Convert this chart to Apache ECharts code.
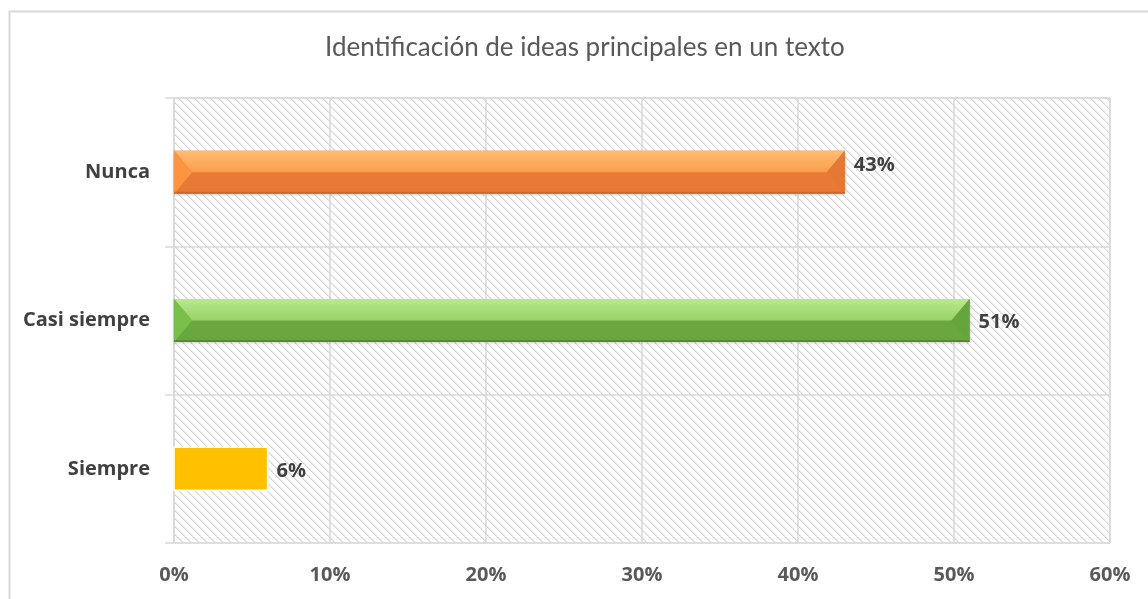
<!DOCTYPE html>
<html>
<head>
<meta charset="utf-8">
<script src="https://cdn.jsdelivr.net/npm/echarts@6/dist/echarts.min.js"></script>
<style>
  html, body { margin: 0; padding: 0; background: #fff; }
  #chart { width: 1148px; height: 599px; }
</style>
</head>
<body>
<div id="chart"></div>
<script>
var title = 'Identificación de ideas principales en un texto';
var categories = ['Nunca', 'Casi siempre', 'Siempre'];
var values = [43, 51, 6];
var xTicks = [0, 10, 20, 30, 40, 50, 60];

(function() {
  var chart = echarts.init(document.getElementById('chart'), null, { renderer: 'canvas' });
  var labelFont = '"Open Sans", Lato, sans-serif';

  // hatch tile for the plot background (downward diagonal)
  var tile = document.createElement('canvas');
  tile.width = 8; tile.height = 8;
  var tctx = tile.getContext('2d');
  tctx.fillStyle = '#ffffff';
  tctx.fillRect(0, 0, 8, 8);
  for (var y = 0; y < 8; y++) {
    for (var x = 0; x < 8; x++) {
      var d = (x - y + 16) % 8;
      if (d === 0) { tctx.fillStyle = (y % 2) ? '#cfcfcf' : '#dedede'; tctx.fillRect(x, y, 1, 1); }
      else if (d === 1) { tctx.fillStyle = '#e8e8e8'; tctx.fillRect(x, y, 1, 1); }
    }
  }

  // look of each bar
  var looks = {
    'Nunca': { flat: false, top0: '#ffbd70', top1: '#f99d4f', bottom: '#e87a36', left: '#fd9441', right: '#e37934', edge: '#b95e22', labelDy: -7 },
    'Casi siempre': { flat: false, top0: '#b8ea8c', top1: '#98d168', bottom: '#69a83f', left: '#79bf4b', right: '#66a43d', edge: '#477a28', labelDy: 2 },
    'Siempre': { flat: true, fill: '#ffc000', labelDy: 2 }
  };

  function renderItem(params, api) {
    var idx = api.value(0);
    var look = looks[categories[idx]];
    var p0 = api.coord([0, idx]);
    var p1 = api.coord([api.value(1), idx]);
    var h = api.size([0, 1])[1] * 0.29;
    var x0 = p0[0], x1 = p1[0];
    var y0 = p0[1] - h / 2, y1 = p0[1] + h / 2, ym = p0[1];
    var children = [];
    if (look.flat) {
      children.push({
        type: 'rect',
        shape: { x: x0, y: y0, width: x1 - x0, height: h },
        style: { fill: look.fill, stroke: '#ffffff', lineWidth: 1.5 }
      });
    } else {
      var b = h * 0.42;
      children.push({
        type: 'rect',
        shape: { x: x0, y: y0, width: x1 - x0, height: h },
        style: { fill: look.bottom, shadowBlur: 3, shadowOffsetY: 1, shadowColor: 'rgba(0,0,0,0.25)' }
      });
      children.push({
        type: 'polygon',
        shape: { points: [[x0, y0], [x1, y0], [x1 - b, ym], [x0 + b, ym]] },
        style: {
          fill: new echarts.graphic.LinearGradient(0, 0, 0, 1, [
            { offset: 0, color: look.top0 }, { offset: 1, color: look.top1 }
          ])
        }
      });
      children.push({
        type: 'polygon',
        shape: { points: [[x0, y0], [x0 + b, ym], [x0, y1]] },
        style: { fill: look.left }
      });
      children.push({
        type: 'polygon',
        shape: { points: [[x1, y0], [x1 - b, ym], [x1, y1]] },
        style: { fill: look.right }
      });
      children.push({
        type: 'rect',
        shape: { x: x0, y: y1 - 2, width: x1 - x0, height: 2 },
        style: { fill: look.edge, opacity: 0.6 }
      });
    }
    children.push({
      type: 'text',
      style: {
        text: api.value(1) + '%',
        x: x1 + 9,
        y: ym + look.labelDy,
        verticalAlign: 'middle',
        fill: '#404040',
        font: 'bold 20px ' + labelFont
      }
    });
    return { type: 'group', children: children };
  }

  var data = values.map(function(v, i) { return [i, v]; });

  var option = {
    animation: false,
    backgroundColor: '#ffffff',
    title: {
      text: title,
      left: 320,
      top: 30,
      textStyle: { color: '#595959', fontSize: 26, fontWeight: 'normal', fontFamily: 'Lato, "Open Sans", sans-serif' }
    },
    graphic: [{
      type: 'rect',
      left: 7, top: 9,
      shape: { width: 1300, height: 800 },
      style: { fill: 'none', stroke: '#d9d9d9', lineWidth: 2 },
      silent: true
    }],
    grid: {
      left: 174, right: 38, top: 98, bottom: 56,
      show: true,
      backgroundColor: { image: tile, repeat: 'repeat' },
      borderColor: '#d9d9d9', borderWidth: 1
    },
    xAxis: {
      type: 'value',
      min: xTicks[0],
      max: xTicks[xTicks.length - 1],
      interval: xTicks[1] - xTicks[0],
      axisLine: { show: false },
      axisTick: { show: false },
      axisLabel: {
        formatter: '{value}%', color: '#595959', fontSize: 20, fontWeight: 'bold',
        fontFamily: labelFont, margin: 22
      },
      splitLine: { lineStyle: { color: '#d9d9d9', width: 1.5 } }
    },
    yAxis: {
      type: 'category',
      data: categories,
      inverse: true,
      axisLine: { lineStyle: { color: '#d9d9d9', width: 1.5 } },
      axisTick: { show: true, length: 9, lineStyle: { color: '#d9d9d9', width: 1.5 } },
      axisLabel: {
        color: '#404040', fontSize: 20, fontWeight: 'bold',
        fontFamily: labelFont, margin: 24
      },
      splitLine: { show: true, lineStyle: { color: '#d9d9d9', width: 1.5 } }
    },
    series: [{
      type: 'custom',
      renderItem: renderItem,
      encode: { x: 1, y: 0 },
      data: data
    }]
  };

  chart.setOption(option);
  window.addEventListener('resize', function() { chart.resize(); });
})();
</script>
</body>
</html>
